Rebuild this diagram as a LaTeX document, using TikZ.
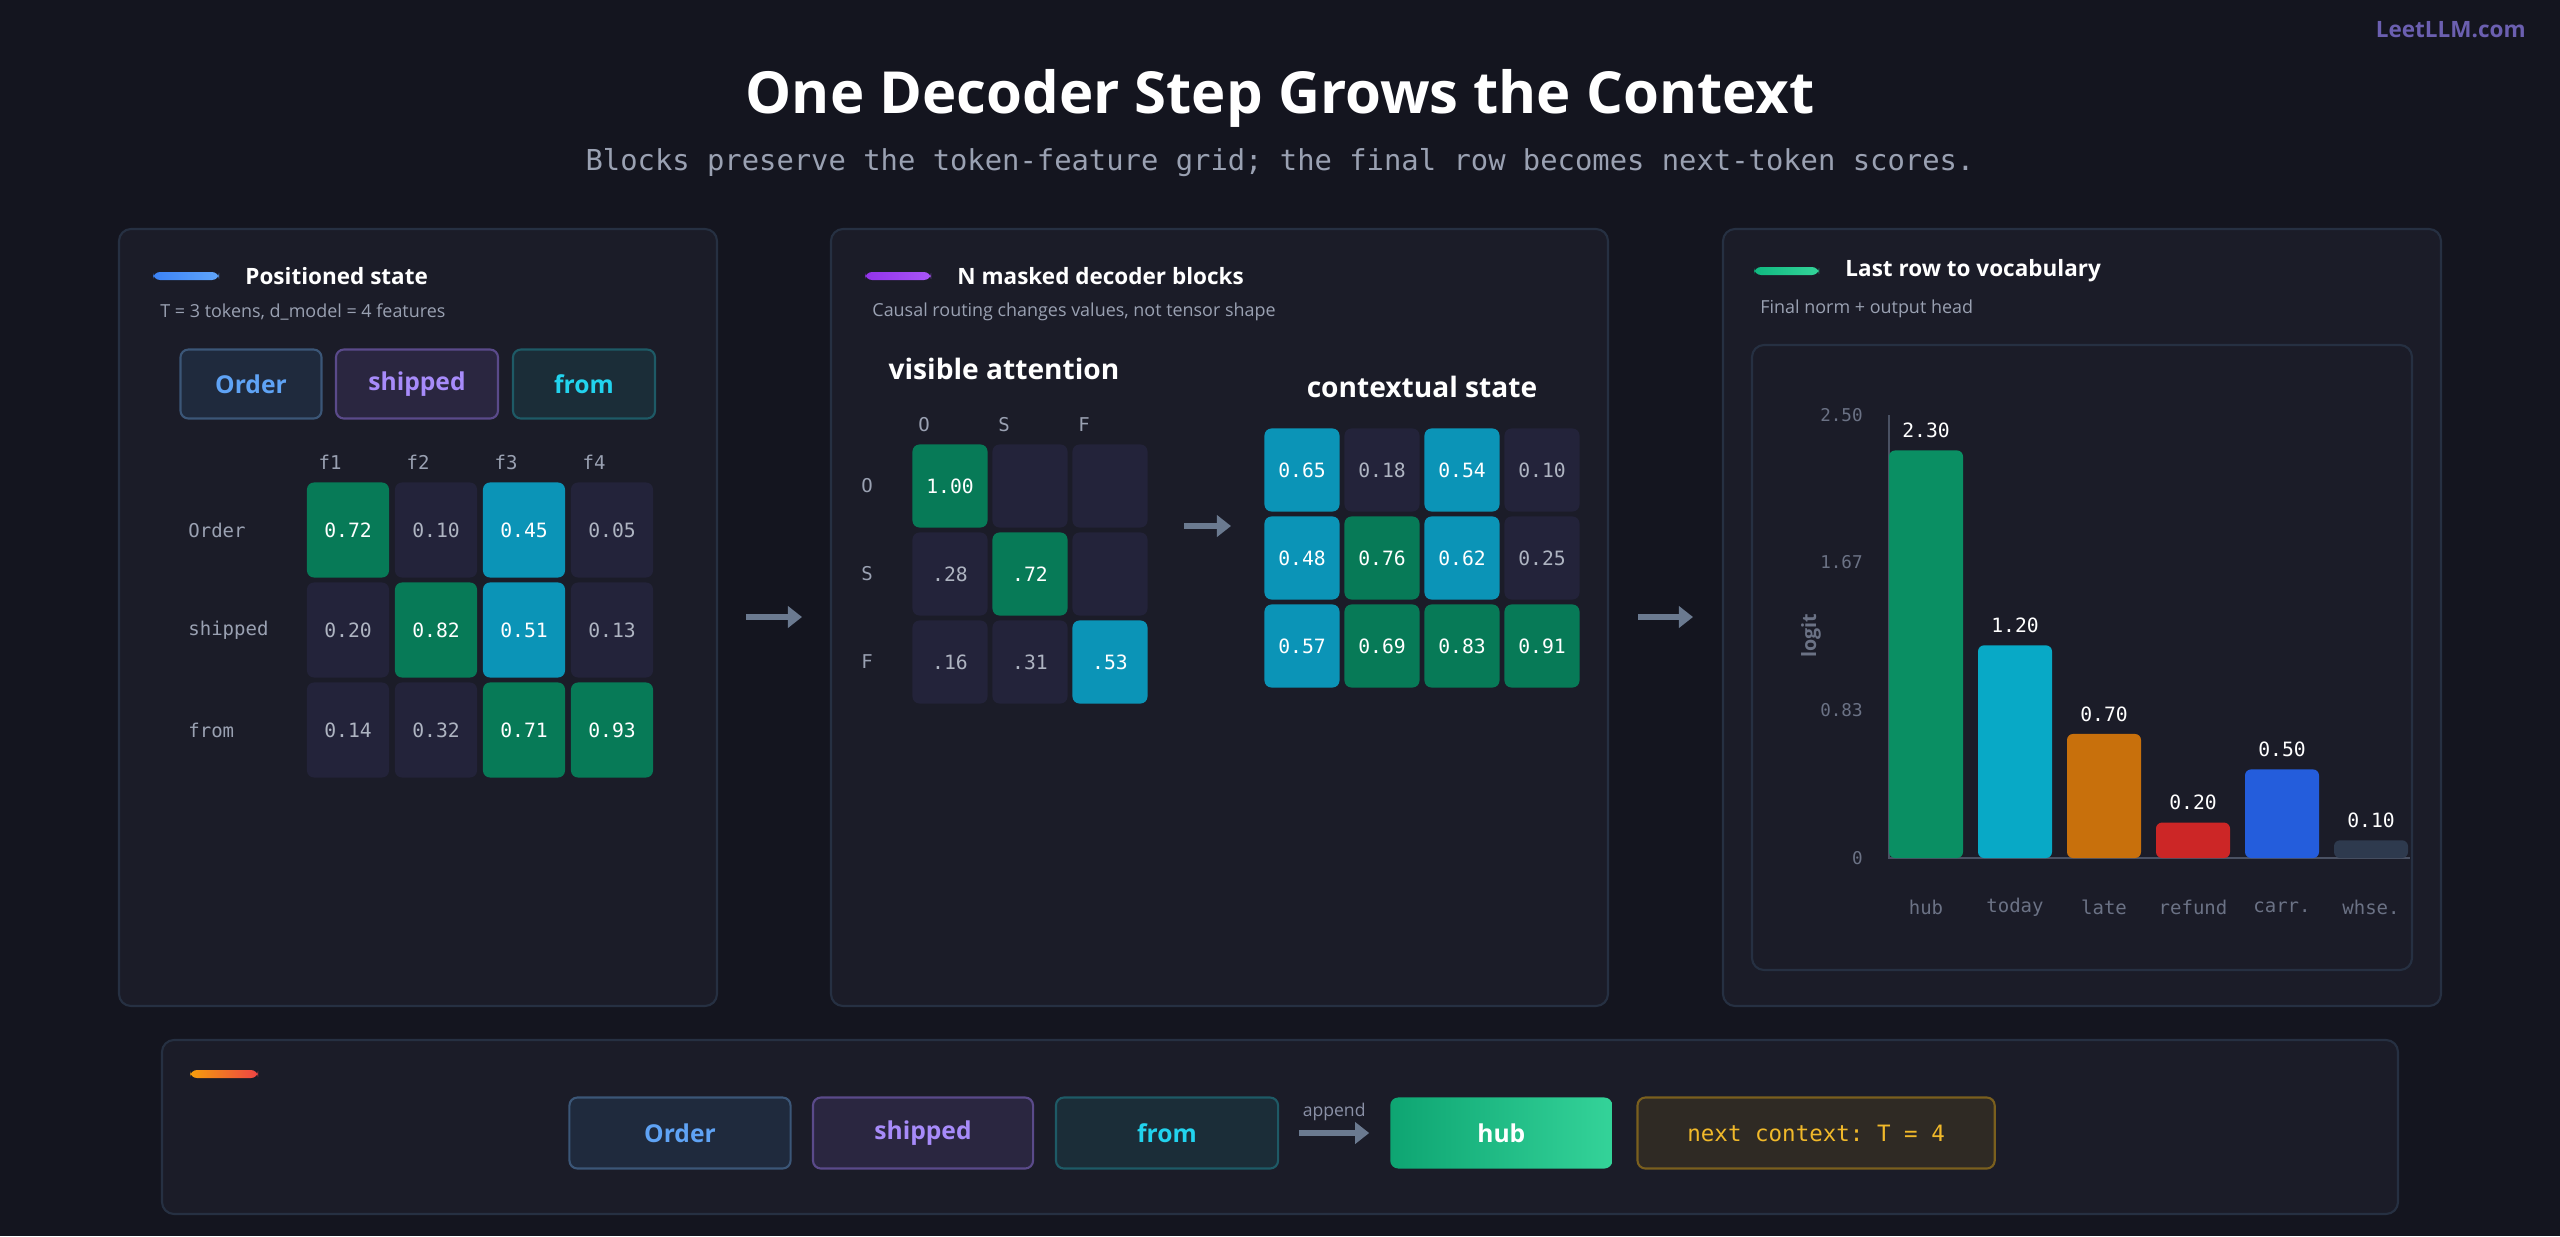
\documentclass[tikz,border=0pt]{standalone}
\usepackage{fontspec}
\setmainfont{Open Sans}
\setmonofont{DejaVu Sans Mono}
\usetikzlibrary{positioning, calc, arrows.meta}

\definecolor{bg}{HTML}{14151F}
\definecolor{panel}{HTML}{1B1C28}
\definecolor{panelline}{HTML}{263042}
\definecolor{celldark}{HTML}{23233A}
\definecolor{cellgreen}{HTML}{077A57}
\definecolor{cellcyan}{HTML}{0B94B7}
\definecolor{softtext}{HTML}{9AA1B2}
\definecolor{dimtext}{HTML}{6B7285}
\definecolor{arrowgray}{HTML}{6B7A90}
\definecolor{logocol}{HTML}{6B5FB0}
\definecolor{axiscol}{HTML}{4A5163}
\definecolor{appendcol}{HTML}{8A90A6}
% token colours
\definecolor{ordline}{HTML}{3B5677}\definecolor{ordfill}{HTML}{1F2A3D}\definecolor{ordtext}{HTML}{5FA3F5}
\definecolor{shpline}{HTML}{5A4A8A}\definecolor{shpfill}{HTML}{2A2640}\definecolor{shptext}{HTML}{A78BFA}
\definecolor{frmline}{HTML}{1E5A66}\definecolor{frmfill}{HTML}{1B2D38}\definecolor{frmtext}{HTML}{22D3EE}
\definecolor{nxtline}{HTML}{7A5F1E}\definecolor{nxtfill}{HTML}{2F2A24}\definecolor{nxttext}{HTML}{F1B92A}
\definecolor{hubA}{HTML}{0EA572}\definecolor{hubB}{HTML}{34D399}
% header bars
\definecolor{blueA}{HTML}{3B82F6}\definecolor{blueB}{HTML}{60A5FA}
\definecolor{purpA}{HTML}{9333EA}\definecolor{purpB}{HTML}{A855F7}
\definecolor{grnA}{HTML}{10B981}\definecolor{grnB}{HTML}{34D399}
\definecolor{orgA}{HTML}{F59E0B}\definecolor{orgB}{HTML}{EF4444}
% bars
\definecolor{barhub}{HTML}{0A8F63}\definecolor{bartoday}{HTML}{08A9C6}\definecolor{barlate}{HTML}{C8700C}
\definecolor{barrefund}{HTML}{CC2626}\definecolor{barcarr}{HTML}{245DDC}\definecolor{barwhse}{HTML}{2E3A4E}

\tikzset{
  paneltitle/.style={font=\fontsize{6.4pt}{8pt}\selectfont\bfseries, text=white, anchor=west},
  panelsub/.style={font=\fontsize{5.1pt}{6pt}\selectfont, text=softtext, anchor=west},
  cell/.style={rounded corners=0.07cm, inner sep=0pt, font=\ttfamily\fontsize{5.6pt}{6pt}\selectfont},
  celld/.style={cell, fill=celldark, text=softtext!80},
  cellg/.style={cell, fill=cellgreen, text=white},
  cellc/.style={cell, fill=cellcyan, text=white},
  bigcell/.style={minimum width=0.82cm, minimum height=0.95cm},
  smallcell/.style={minimum width=0.75cm, minimum height=0.83cm},
  rowlab/.style={font=\ttfamily\fontsize{5.4pt}{6pt}\selectfont, text=softtext},
  token/.style={rounded corners=0.08cm, line width=0.6pt, inner sep=0pt,
    font=\fontsize{7pt}{8pt}\selectfont\bfseries},
  flow/.style={-{Triangle[length=4pt,width=6pt]}, line width=1.6pt, arrowgray},
  ticklab/.style={font=\ttfamily\fontsize{5pt}{6pt}\selectfont, text=dimtext, anchor=east},
  barlab/.style={font=\ttfamily\fontsize{5.6pt}{6pt}\selectfont, text=white},
  vocab/.style={font=\ttfamily\fontsize{5.4pt}{6pt}\selectfont, text=dimtext},
}

\begin{document}
\begin{tikzpicture}[x=0.01cm, y=-0.01cm]
    % Background
    \fill[bg] (0,0) rectangle (2560,1236);
    \useasboundingbox (0,0) rectangle (2560,1236);

    % Title
    \node[font=\fontsize{16.5pt}{20pt}\selectfont\bfseries, text=white] (title) at (1280,98) {One Decoder Step Grows the Context};
    \node[font=\ttfamily\fontsize{8.2pt}{10pt}\selectfont, text=softtext] (subtitle) at (1280,163)
      {Blocks preserve the token-feature grid; the final row becomes next-token scores.};
    \node[font=\fontsize{6.4pt}{7pt}\selectfont\bfseries, text=logocol, anchor=east] (logo) at (2538,30) {LeetLLM.com};

    % Panels
    \foreach \xa/\xb in {119/717, 831/1608, 1723/2441}
      \draw[panelline, fill=panel, line width=0.6pt, rounded corners=0.12cm] (\xa,229) rectangle (\xb,1006);
    \draw[panelline, fill=panel, line width=0.6pt, rounded corners=0.12cm] (162,1040) rectangle (2398,1214);

    % Panel 1: positioned state
    \shade[left color=blueA, right color=blueB, rounded corners=2pt] (153,272) rectangle (219,280);
    \node[paneltitle] (p1title) at (233,276) {Positioned state};
    \node[panelsub] (p1sub) at (148,312) {T = 3 tokens, d\_model = 4 features};
    \node[token, draw=ordline, fill=ordfill, text=ordtext, minimum width=1.41cm, minimum height=0.69cm] (tokOrder) at (251,384) {Order};
    \node[token, draw=shpline, fill=shpfill, text=shptext, minimum width=1.62cm, minimum height=0.69cm] (tokShipped) at (417,384) {shipped};
    \node[token, draw=frmline, fill=frmfill, text=frmtext, minimum width=1.42cm, minimum height=0.69cm] (tokFrom) at (584,384) {from};
    \foreach \f [count=\k] in {f1,f2,f3,f4}
      \node[rowlab] (fh\k) at ({330+88*(\k-1)},462) {\f};
    \foreach \lab [count=\r] in {Order,shipped,from}
      \node[rowlab, anchor=west] (rl\r) at (176,{530+100*(\r-1)}) {\lab};
    \foreach \row [count=\r] in {{0.72/g,0.10/d,0.45/c,0.05/d},{0.20/d,0.82/g,0.51/c,0.13/d},{0.14/d,0.32/d,0.71/g,0.93/g}}
      \foreach \v/\c [count=\k] in \row
        \node[cell\c, bigcell] (s\r\k) at ({348+88*(\k-1)},{530+100*(\r-1)}) {\v};

    \coordinate (a1s) at (746,617);
    \coordinate (a1e) at (802,617);
    \draw[flow] (a1s) -- (a1e);

    % Panel 2: masked decoder blocks
    \shade[left color=purpA, right color=purpB, rounded corners=2pt] (865,272) rectangle (931,280);
    \node[paneltitle] (p2title) at (945,276) {N masked decoder blocks};
    \node[panelsub] (p2sub) at (860,312) {Causal routing changes values, not tensor shape};
    \node[font=\fontsize{8pt}{10pt}\selectfont\bfseries, text=white] (atttitle) at (1004,369) {visible attention};
    \foreach \lab [count=\k] in {O,S,F}
      \node[rowlab] (ah\k) at ({924+80*(\k-1)},425) {\lab};
    \foreach \lab [count=\r] in {O,S,F}
      \node[rowlab] (ar\r) at (867,{486+88*(\r-1)}) {\lab};
    \foreach \row [count=\r] in {{1.00/g,/d,/d},{.28/d,.72/g,/d},{.16/d,.31/d,.53/c}}
      \foreach \v/\c [count=\k] in \row
        \node[cell\c, smallcell] (att\r\k) at ({950+80*(\k-1)},{486+88*(\r-1)}) {\v};

    \coordinate (a2s) at (1184,526);
    \coordinate (a2e) at (1231,526);
    \draw[flow] (a2s) -- (a2e);

    \node[font=\fontsize{8pt}{10pt}\selectfont\bfseries, text=white] (ctxtitle) at (1422,387) {contextual state};
    \foreach \row [count=\r] in {{0.65/c,0.18/d,0.54/c,0.10/d},{0.48/c,0.76/g,0.62/c,0.25/d},{0.57/c,0.69/g,0.83/g,0.91/g}}
      \foreach \v/\c [count=\k] in \row
        \node[cell\c, smallcell] (ctx\r\k) at ({1302+80*(\k-1)},{470+88*(\r-1)}) {\v};

    \coordinate (a3s) at (1638,617);
    \coordinate (a3e) at (1693,617);
    \draw[flow] (a3s) -- (a3e);

    % Panel 3: last row to vocabulary
    \shade[left color=grnA, right color=grnB, rounded corners=2pt] (1754,267) rectangle (1819,275);
    \node[paneltitle] (p3title) at (1833,271) {Last row to vocabulary};
    \node[panelsub] (p3sub) at (1748,309) {Final norm + output head};
    \draw[panelline, fill=panel, line width=0.6pt, rounded corners=0.12cm] (1752,345) rectangle (2412,970);

    % Axes
    \draw[axiscol, line width=0.6pt] (1889,415) -- (1889,858) -- (2410,858);
    \foreach \t/\y in {2.50/415, 1.67/562, 0.83/710, 0/858}
      \node[ticklab] (tick\y) at (1875,\y) {\t};
    \node[font=\fontsize{5.6pt}{6pt}\selectfont\bfseries, text=dimtext, rotate=90] (ylab) at (1811,636) {logit};

    % Bars
    \foreach \v/\w/\col [count=\i] in {2.30/hub/barhub, 1.20/today/bartoday, 0.70/late/barlate,
        0.20/refund/barrefund, 0.50/carr./barcarr, 0.10/whse./barwhse} {
      \fill[\col, rounded corners=0.06cm] ({1889+89*(\i-1)},858) rectangle ({1963+89*(\i-1)},{858-177.2*\v});
      \node[barlab] (bv\i) at ({1926+89*(\i-1)},{858-177.2*\v-20}) {\v};
      \node[vocab] (bw\i) at ({1926+89*(\i-1)},907) {\w};
    }

    % Bottom strip: next context
    \shade[left color=orgA, right color=orgB, rounded corners=2pt] (190,1070) rectangle (258,1078);
    \node[token, draw=ordline, fill=ordfill, text=ordtext, minimum width=2.21cm, minimum height=0.71cm] (nOrder) at (680,1133) {Order};
    \node[token, draw=shpline, fill=shpfill, text=shptext, minimum width=2.2cm, minimum height=0.71cm] (nShipped) at (923,1133) {shipped};
    \node[token, draw=frmline, fill=frmfill, text=frmtext, minimum width=2.22cm, minimum height=0.71cm] (nFrom) at (1167,1133) {from};
    \node[token, left color=hubA, right color=hubB, text=white, minimum width=2.22cm, minimum height=0.71cm, right=1.1cm of nFrom] (nHub) {hub};
    \node[token, draw=nxtline, fill=nxtfill, text=nxttext, font=\ttfamily\fontsize{6.4pt}{8pt}\selectfont,
      minimum width=3.57cm, minimum height=0.71cm, right=0.23cm of nHub] (nNext) {next context: T = 4};
    \draw[flow] ($(nFrom.east)+(20,0)$) -- ($(nHub.west)+(-20,0)$);
    \node[font=\fontsize{5pt}{6pt}\selectfont, text=appendcol] (append) at ($(nFrom.east)!0.5!(nHub.west)+(0,-21)$) {append};
\end{tikzpicture}
\end{document}
